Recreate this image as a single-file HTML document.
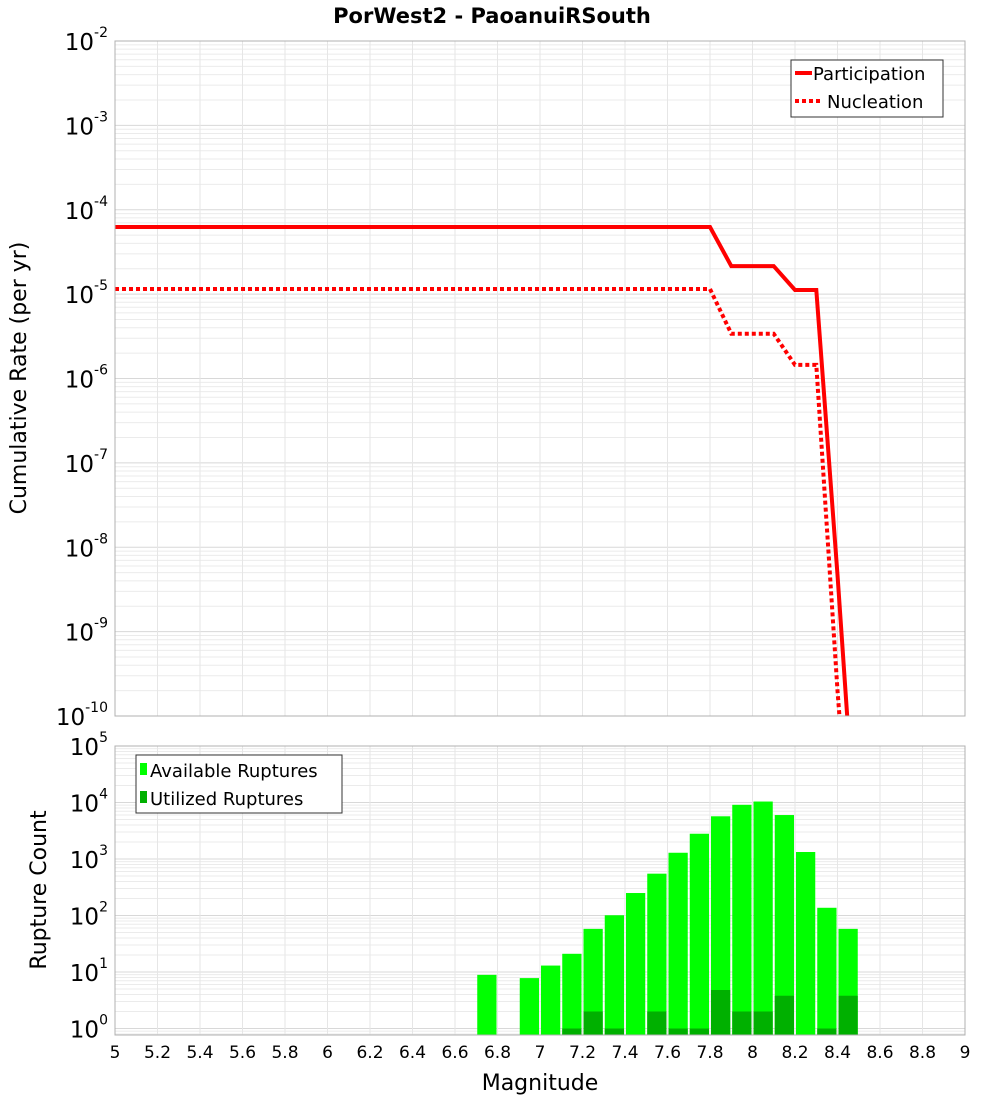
<!DOCTYPE html>
<html><head><meta charset="utf-8"><style>
body{margin:0;background:#fff}
svg{font-family:"DejaVu Sans","Liberation Sans",sans-serif}
</style></head><body>
<svg id="c" width="1000" height="1100"></svg>
<script>
const magsTop=[5.0,7.8,7.9,8.1,8.2,8.3,8.4,8.5];
const participation=[6.25e-5,6.25e-5,2.15e-5,2.15e-5,1.12e-5,1.12e-5,4.7e-9,1e-12];
const nucleation=[1.15e-5,1.15e-5,3.4e-6,3.4e-6,1.45e-6,1.45e-6,2e-10,1e-13];
const binStarts=[6.7,6.9,7.0,7.1,7.2,7.3,7.4,7.5,7.6,7.7,7.8,7.9,8.0,8.1,8.2,8.3,8.4];
const available=[8.9,7.8,13,21,58,101,250,550,1290,2800,5700,9100,10400,6000,1330,137,58];
const utilized=[0,0,0,1,2,1,0,2,1,1,4.8,2,2,3.8,0,1,3.8];
const xTicks=[5,5.2,5.4,5.6,5.8,6,6.2,6.4,6.6,6.8,7,7.2,7.4,7.6,7.8,8,8.2,8.4,8.6,8.8,9];
const xTickLabels=["5","5.2","5.4","5.6","5.8","6","6.2","6.4","6.6","6.8","7","7.2","7.4","7.6","7.8","8","8.2","8.4","8.6","8.8","9"];
const topExps=[-2,-3,-4,-5,-6,-7,-8,-9,-10];
const botExps=[5,4,3,2,1,0];

const NS="http://www.w3.org/2000/svg";
const svg=document.getElementById('c');
function mk(t,a,p){const e=document.createElementNS(NS,t);for(const k in a)e.setAttribute(k,a[k]);(p||svg).appendChild(e);return e;}
const X0=115,X1=965;
const x=m=>X0+(m-5)/4*(X1-X0);
const T0=41,T1=716;
const yT=v=>T0+(-2-Math.log10(v))*(T1-T0)/8;
const B0=746,B1=1035,BD=56.5;
const yB=v=>B0+(5-Math.log10(v))*BD;
const clipB=v=>Math.min(B1,yB(v));

mk('defs',{}).innerHTML='<clipPath id="ct"><rect x="115" y="41" width="850" height="675"/></clipPath><clipPath id="cb"><rect x="115" y="746" width="850" height="289"/></clipPath>';

function grid(g,y0,y1,yf,lo,hi){
  for(let e=lo;e<hi;e++){for(let k=1;k<10;k++){const v=k*Math.pow(10,e);const yy=yf(v);if(yy<y0-0.1||yy>y1+0.1)continue;
    const l=mk('line',{x1:X0,x2:X1,y1:yy,y2:yy,stroke:k==1?'#d8d8d8':'#ebebeb','stroke-width':1},g);
    }}
  xTicks.forEach(t=>{const l=mk('line',{x1:x(t),x2:x(t),y1:y0,y2:y1,stroke:'#e6e6e6'},g);
    });
}
const gt=mk('g',{});
grid(gt,T0,T1,yT,-10,-2);
const gb=mk('g',{});
grid(gb,B0,B1,yB,-1,5);

const ti=mk('text',{x:492,y:23,'text-anchor':'middle','font-size':21,'font-weight':'bold',});ti.textContent='PorWest2 - PaoanuiRSouth';

function path(xs,vs){return xs.map((m,i)=>(i?'L':'M')+x(m).toFixed(1)+','+yT(vs[i]).toFixed(1)).join('');}
const lg=mk('g',{'clip-path':'url(#ct)'});
mk('path',{d:path(magsTop,participation),fill:'none',stroke:'#ff0000','stroke-width':4,},lg);
mk('path',{d:path(magsTop,nucleation),fill:'none',stroke:'#ff0000','stroke-width':4,'stroke-dasharray':'4,3',},lg);

const bg=mk('g',{'clip-path':'url(#cb)'});
binStarts.forEach((m,i)=>{
  const bx=x(m)+1,bw=x(m+0.1)-x(m)-2;
  const ya=clipB(available[i]);
  const r=mk('rect',{x:bx,y:ya,width:bw,height:B1-ya,fill:'#00ff00'},bg);
  
  if(utilized[i]>0){const yu=clipB(utilized[i]);
    const u=mk('rect',{x:bx,y:yu,width:bw,height:B1-yu,fill:'#00b000'},bg);
    }
});

mk('rect',{x:X0,y:T0,width:X1-X0,height:T1-T0,fill:'none',stroke:'#b0b0b0',});
mk('rect',{x:X0,y:B0,width:X1-X0,height:B1-B0,fill:'none',stroke:'#b0b0b0',});

function ylab(e,yy,name){const t=mk('text',{x:108,y:yy+9,'text-anchor':'end','font-size':23});
  
  t.innerHTML='10<tspan dy="-13" font-size="14">'+e+'</tspan>';}
topExps.forEach(e=>ylab(e,yT(Math.pow(10,e)),'top-y-tick-label'));
botExps.forEach(e=>ylab(e,yB(Math.pow(10,e)),'bottom-y-tick-label'));

xTicks.forEach((t,i)=>{const l=mk('text',{x:x(t),y:1058,'text-anchor':'middle','font-size':17});
  l.textContent=xTickLabels[i];});

const xt=mk('text',{x:540,y:1090,'text-anchor':'middle','font-size':22,});xt.textContent='Magnitude';
const yt1=mk('text',{x:0,y:0,'text-anchor':'middle','font-size':22,transform:'translate(26,378) rotate(-90)',});yt1.textContent='Cumulative Rate (per yr)';
const yt2=mk('text',{x:0,y:0,'text-anchor':'middle','font-size':22,transform:'translate(46,890) rotate(-90)',});yt2.textContent='Rupture Count';

const L1=mk('g',{});
mk('rect',{x:791,y:60,width:152,height:57,fill:'#fff',stroke:'#333'},L1);
mk('line',{x1:795,x2:812,y1:73,y2:73,stroke:'#f00','stroke-width':4},L1);
mk('line',{x1:795,x2:822,y1:101,y2:101,stroke:'#f00','stroke-width':4,'stroke-dasharray':'4,3'},L1);
let t=mk('text',{x:813,y:80,'font-size':18,},L1);t.textContent='Participation';
t=mk('text',{x:827,y:108,'font-size':18,},L1);t.textContent='Nucleation';
const L2=mk('g',{});
mk('rect',{x:136,y:755,width:206,height:58,fill:'#fff',stroke:'#333'},L2);
mk('rect',{x:140,y:763,width:7,height:12,fill:'#00ff00'},L2);
mk('rect',{x:140,y:791,width:7,height:12,fill:'#00b000'},L2);
t=mk('text',{x:150,y:777,'font-size':18,},L2);t.textContent='Available Ruptures';
t=mk('text',{x:150,y:805,'font-size':18,},L2);t.textContent='Utilized Ruptures';
</script>
</body></html>
